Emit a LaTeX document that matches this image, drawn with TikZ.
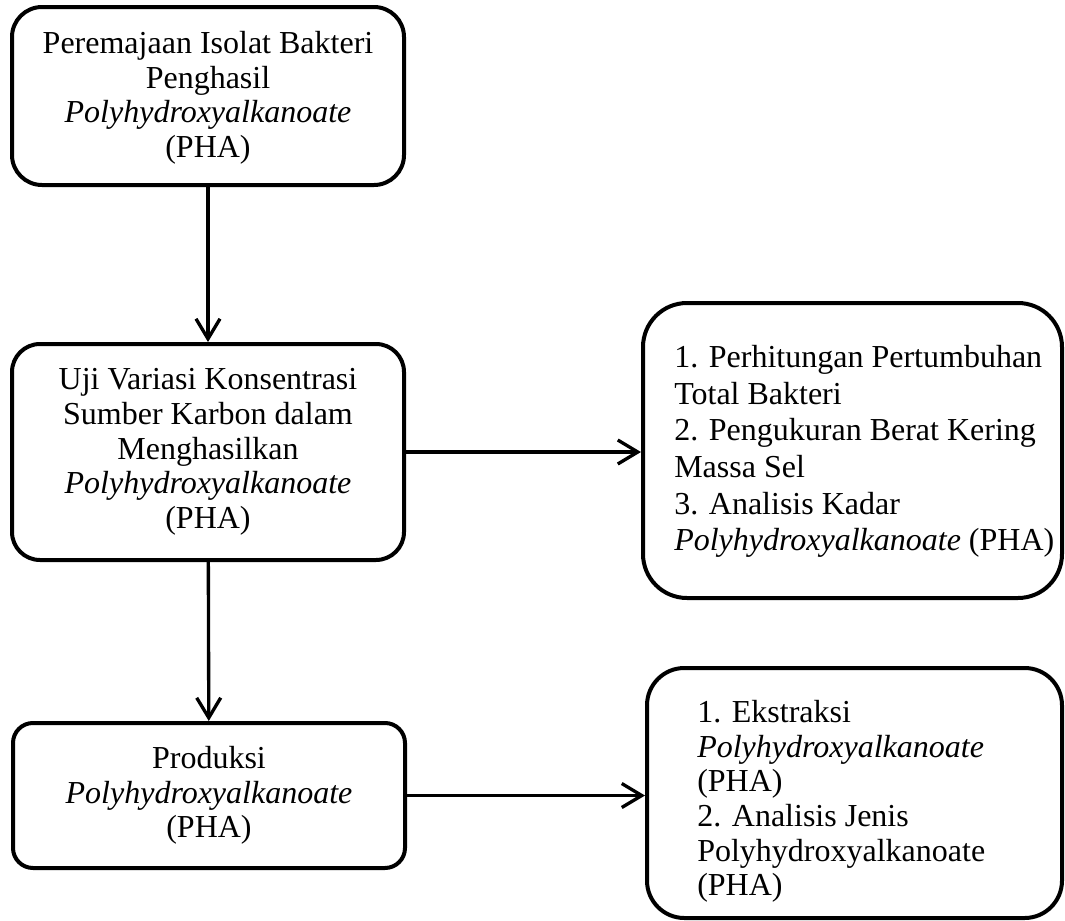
\documentclass[tikz,border=0pt]{standalone}
\usepackage{fontspec}
\setmainfont{Liberation Serif}
\usetikzlibrary{arrows.meta}
\begin{document}
\begin{tikzpicture}[x=0.75pt,y=-0.75pt,
  box/.style={draw, line width=3pt, inner sep=0pt, align=center, font=\fontsize{24}{26}\selectfont},
  txt/.style={inner sep=0pt, align=left, anchor=north west, font=\fontsize{24}{26}\selectfont},
  arr/.style={line width=2.5pt, -{Straight Barb[length=15pt,width=18pt]}}]
\useasboundingbox (0,0) rectangle (1065,921);
\node[box, minimum width=294pt, minimum height=133.5pt, rounded corners=22.5pt] (A) at (208,96) {};
\node[txt, anchor=north, align=center] (At) at (208,31)
  {Peremajaan Isolat Bakteri\\Penghasil\\\textit{Polyhydroxyalkanoate}\\(PHA)};
\node[box, minimum width=294pt, minimum height=162pt, rounded corners=21pt] (B) at (208,452)
  {Uji Variasi Konsentrasi\\Sumber Karbon dalam\\Menghasilkan\\\textit{Polyhydroxyalkanoate}\\(PHA)};
\node[box, minimum width=294pt, minimum height=108.75pt, rounded corners=15pt] (C) at (209,795.5)
  {Produksi\\\textit{Polyhydroxyalkanoate}\\(PHA)};
\node[box, minimum width=314.25pt, minimum height=221.25pt, rounded corners=33pt] (D) at (852.5,450.5) {};
\node[txt, font=\fontsize{24}{27.5}\selectfont] (Dt) at (674,345)
  {1. Perhitungan Pertumbuhan\\Total Bakteri\\2. Pengukuran Berat Kering\\Massa Sel\\3. Analisis Kadar\\\textit{Polyhydroxyalkanoate} (PHA)};
\node[box, minimum width=311.25pt, minimum height=187.5pt, rounded corners=28pt] (E) at (854.5,793) {};
\node[txt] (Et) at (697,700)
  {1. Ekstraksi\\\textit{Polyhydroxyalkanoate}\\(PHA)\\2. Analisis Jenis\\Polyhydroxyalkanoate\\(PHA)};
\draw[arr] (A) -- (B);
\draw[arr] (B) -- (C);
\draw[arr] (B.east) -- (B.east -| D.west);
\draw[arr] (C.east) -- (C.east -| E.west);
\end{tikzpicture}
\end{document}
